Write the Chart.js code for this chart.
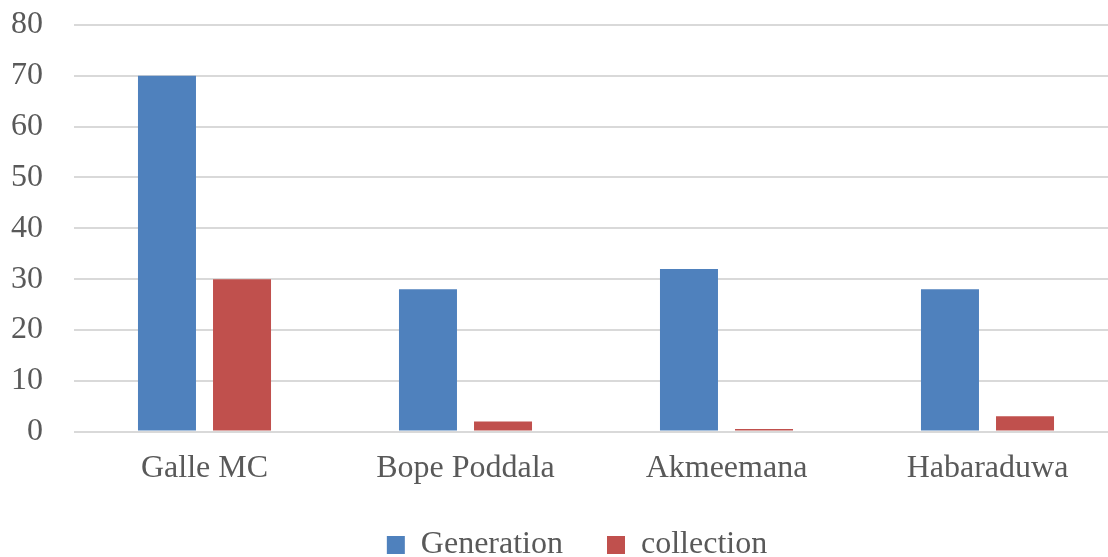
<!DOCTYPE html>
<html>
<head>
<meta charset="utf-8">
<script src="https://cdn.jsdelivr.net/npm/chart.js@4/dist/chart.umd.min.js"></script>
<style>
  html, body { margin: 0; padding: 0; background: #ffffff; overflow: hidden; }
  #wrap { width: 1108px; height: 557px; overflow: hidden; position: relative; }
  canvas { display: block; }
</style>
</head>
<body>
<div id="wrap"><canvas id="c" width="1120" height="557"></canvas></div>
<script>
// Waste generation vs. collection by local authority
const categories = ['Galle MC', 'Bope Poddala', 'Akmeemana', 'Habaraduwa'];
const generation = [70, 28, 32, 28];
const collection = [30, 2, 0.5, 3];
const yTicks = [0, 10, 20, 30, 40, 50, 60, 70, 80];

const FONT = '"Liberation Serif", "Times New Roman", serif';
const TEXT = '#595959';

// Nudges the bottom legend after layout so it sits centred under the plot
const legendNudge = {
  id: 'legendNudge',
  afterLayout(chart, args, opts) {
    const lg = chart.legend;
    if (!lg) return;
    lg.left += opts.dx; lg.right += opts.dx;
    lg.top += opts.dy; lg.bottom += opts.dy;
  }
};

new Chart(document.getElementById('c'), {
  type: 'bar',
  data: {
    labels: categories,
    datasets: [
      { label: 'Generation', data: generation, backgroundColor: '#4f81bd', borderWidth: 0 },
      { label: 'collection', data: collection, backgroundColor: '#c0504d', borderWidth: 0 }
    ]
  },
  plugins: [legendNudge],
  options: {
    responsive: false,
    animation: false,
    devicePixelRatio: 1,
    layout: { padding: { left: 0, right: 2, top: 25, bottom: -35 } },
    datasets: { bar: { categoryPercentage: 0.575, barPercentage: 0.773 } },
    plugins: {
      tooltip: { enabled: false },
      legendNudge: { dx: 18, dy: -21 },
      legend: {
        position: 'bottom',
        labels: {
          boxWidth: 18,
          boxHeight: 18,
          padding: 44,
          color: TEXT,
          font: { family: FONT, size: 32 }
        }
      }
    },
    scales: {
      x: {
        grid: { display: false, drawTicks: false },
        border: { display: false },
        ticks: { color: TEXT, font: { family: FONT, size: 32 }, padding: 18, maxRotation: 0 }
      },
      y: {
        min: 0,
        max: 80,
        afterBuildTicks: (s) => { s.ticks = yTicks.map(v => ({ value: v })); },
        afterFit: (s) => { s.width = 74; s.paddingTop = 0; s.paddingBottom = 0; },
        grid: { color: '#d9d9d9', lineWidth: 2, drawTicks: false },
        border: { display: false },
        ticks: { color: TEXT, font: { family: FONT, size: 32 }, padding: 31 }
      }
    }
  }
});
</script>
</body>
</html>
